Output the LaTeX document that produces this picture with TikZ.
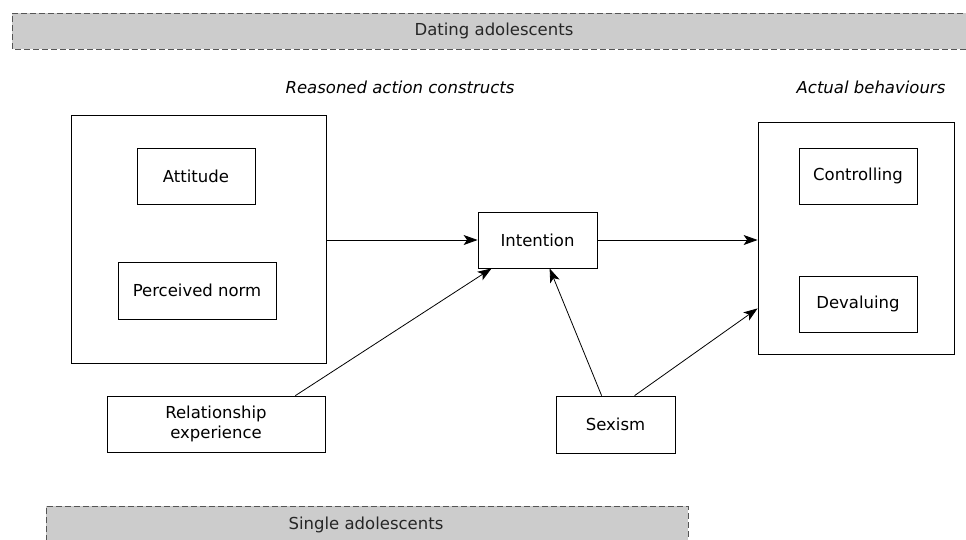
\documentclass[tikz,border=0pt]{standalone}
\usepackage{fontspec}
\setmainfont{DejaVu Sans}
\usetikzlibrary{arrows.meta}
\definecolor{bannergray}{HTML}{CCCCCC}
\definecolor{dashgray}{HTML}{555555}
\begin{document}
\begin{tikzpicture}[x=1pt,y=-1pt,
  box/.style={draw, line width=0.8pt, inner sep=0pt, align=center,
    font=\fontsize{16.5}{20}\selectfont},
  bannerline/.style={draw=dashgray, line width=0.9pt, dash pattern=on 6pt off 3pt},
  bannertext/.style={font=\fontsize{16.5}{20}\selectfont, text=black!85},
  headtext/.style={font=\itshape\fontsize{16.5}{20}\selectfont},
  arr/.style={-{Stealth[length=14pt,width=10pt,inset=3.5pt]}, line width=0.8pt}]
\useasboundingbox (0,0) rectangle (966,539);
% banners
\fill[bannergray] (12,13) rectangle (972,49);
\draw[bannerline] (972,13) -- (12,13) -- (12,49) -- (972,49);
\node[bannertext] (dating) at (494,31) {Dating adolescents};
\fill[bannergray] (46,506) rectangle (688,550);
\draw[bannerline] (46,550) -- (46,506) -- (688,506) -- (688,550);
\node[bannertext] (single) at (366,525) {Single adolescents};
% headings
\node[headtext] (rac) at (400,87) {Reasoned action constructs};
\node[headtext] (ab) at (871,87) {Actual behaviours};
% boxes
\node[box, minimum width=255pt, minimum height=248pt] (left) at (198.5,239) {};
\node[box, minimum width=118pt, minimum height=56pt] (att) at (196,176) {Attitude};
\node[box, minimum width=158pt, minimum height=57pt] (norm) at (197,290.5) {Perceived norm};
\node[box, minimum width=119pt, minimum height=56pt] (int) at (537.5,240) {Intention};
\node[box, minimum width=196pt, minimum height=232pt] (right) at (856,238) {};
\node[box, minimum width=118pt, minimum height=56pt] (ctrl) at (858,176) {Controlling};
\node[box, minimum width=118pt, minimum height=56pt] (dev) at (858,304) {Devaluing};
\node[box, minimum width=218pt, minimum height=56pt] (rel) at (216,424) {Relationship\\experience};
\node[box, minimum width=119pt, minimum height=57pt] (sex) at (615.5,424.5) {Sexism};
% arrows
\draw[arr] (int.west -| left.east) -- (int.west);
\draw[arr] (int.east) -- (int.east -| right.west);
\draw[arr] ([xshift=-30pt]rel.north east) -- ([xshift=14pt]int.south west);
\draw[arr] ([xshift=46pt]sex.north west) -- ([xshift=72pt]int.south west);
\draw[arr] ([xshift=79pt]sex.north west) -- ([yshift=46pt]right.south west);
\end{tikzpicture}
\end{document}
